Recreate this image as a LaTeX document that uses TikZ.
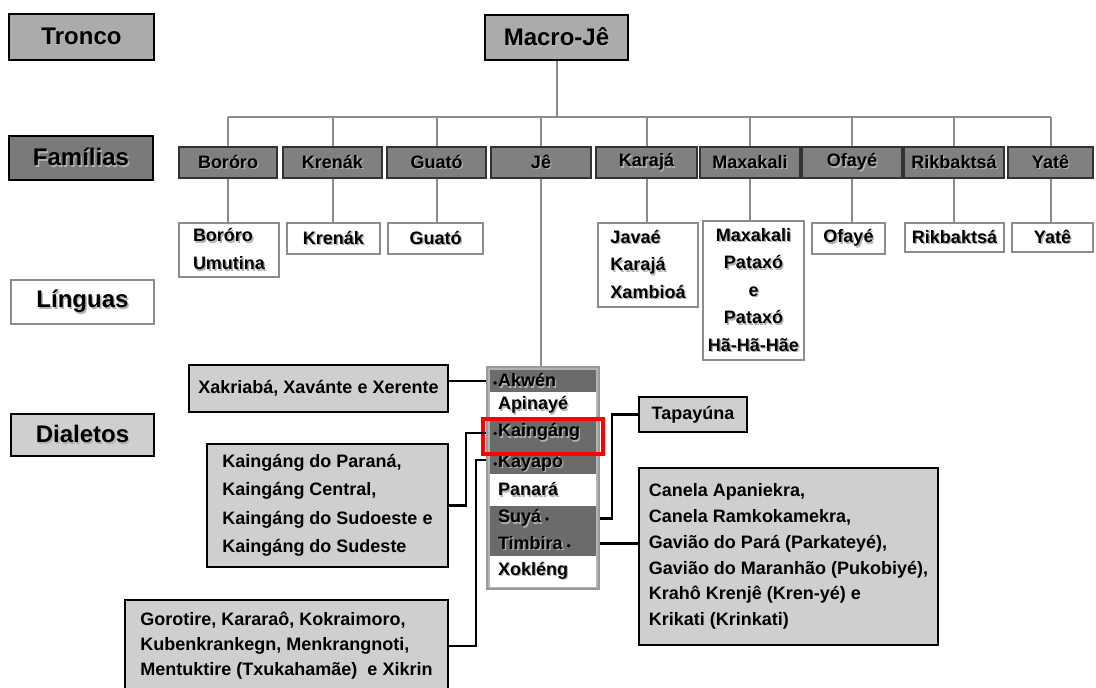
\documentclass[tikz,border=0pt]{standalone}
\usepackage{fontspec}
\setmainfont{Liberation Sans}
\usetikzlibrary{calc, positioning}

% text with a soft grey drop shadow
\newcommand{\shd}[1]{\leavevmode\rlap{\hspace{1.4pt}\raisebox{-1.6pt}{\textcolor{black!30}{#1}}}#1}
\newcommand{\bul}{\tikz[baseline=0pt]\fill (0pt,0pt) rectangle (0pt,0pt) (2pt,3.5pt) circle[radius=1.9pt];}

\begin{document}
\begin{tikzpicture}[x=1pt, y=-1pt,
	hdr/.style={draw=black, line width=2.5pt, fill=black!33, inner sep=0pt,
		font=\fontsize{24}{28}\selectfont\bfseries},
	fam/.style={draw=black!80, line width=1.2pt, fill=black!50, inner sep=0pt,
		minimum height=31, font=\fontsize{18}{22}\selectfont\bfseries},
	lang/.style={draw=black!45, line width=2pt, fill=white, inner sep=0pt, align=left,
		font=\fontsize{18}{27.5}\selectfont\bfseries},
	dial/.style={draw=black, line width=2.5pt, fill=black!19, inner sep=0pt, align=left,
		font=\fontsize{18}{25.8}\selectfont\bfseries},
	colbox/.style={draw=black!40, line width=1.8pt, fill=black!30, inner sep=0pt},
	roww/.style={fill=white, inner ysep=0pt, inner xsep=8pt, text width=90, align=left,
		font=\fontsize{18}{22}\selectfont\bfseries},
	rowd/.style={roww, fill=black!58},
	tree/.style={draw=black!45, line width=2pt},
	link/.style={draw=black, line width=2.2pt},
	redframe/.style={draw=red, line width=4pt}]
	\useasboundingbox (0,0) rectangle (1096,688);
	\clip (0,0) rectangle (1096,688);

	% level labels
	\node[hdr, minimum width=145, minimum height=46] (tronco) at (81.5,37) {\shd{Tronco}};
	\node[hdr, fill=black!52, minimum width=144, minimum height=44] (famil) at (81,158) {\shd{Famílias}};
	\node[hdr, draw=black!45, fill=white, minimum width=143, minimum height=44] (lingu) at (82.5,302) {\shd{Línguas}};
	\node[hdr, fill=black!19, minimum width=143, minimum height=42] (dialt) at (82.5,435) {\shd{Dialetos}};

	% tronco
	\node[hdr, minimum width=143, minimum height=45] (macro) at (556.5,37.5) {\shd{Macro-Jê}};

	% familias
	\node[fam, minimum width=98] (fbor) at (228,162.5) {\shd{Boróro}};
	\node[fam, minimum width=99] (fkre) at (332.5,162.5) {\shd{Krenák}};
	\node[fam, minimum width=99] (fgua) at (436.5,162.5) {\shd{Guató}};
	\node[fam, minimum width=100] (fje) at (541,162.5) {\shd{Jê}};
	\node[fam, minimum width=101] (fkar) at (646.5,162.5) {\shd{Karajá}};
	\node[fam, minimum width=100] (fmax) at (750,162.5) {\shd{Maxakali}};
	\node[fam, minimum width=100] (fofa) at (852,162.5) {\shd{Ofayé}};
	\node[fam, minimum width=100] (frik) at (954,162.5) {\shd{Rikbaktsá}};
	\node[fam, minimum width=85] (fyat) at (1050.5,162.5) {\shd{Yatê}};

	% linguas
	\node[lang, minimum width=100, minimum height=54] (lbor) at (229,250) {\shd{Boróro}\\\shd{Umutina}};
	\node[lang, minimum width=93, minimum height=31] (lkre) at (333.5,238.5) {\shd{Krenák}};
	\node[lang, minimum width=95, minimum height=31] (lgua) at (435.5,238.5) {\shd{Guató}};
	\node[lang, minimum width=100, minimum height=84] (lkar) at (648,265) {\shd{Javaé}\\\shd{Karajá}\\\shd{Xambioá}};
	\node[lang, align=center, minimum width=101, minimum height=139] (lmax) at (753.5,290.5)
		{\shd{Maxakali}\\\shd{Pataxó}\\\shd{e}\\\shd{Pataxó}\\\shd{Hã-Hã-Hãe}};
	\node[lang, minimum width=73, minimum height=31] (lofa) at (848.5,238.5) {\shd{Ofayé}};
	\node[lang, minimum width=99, minimum height=29] (lrik) at (954.5,237.5) {\shd{Rikbaktsá}};
	\node[lang, minimum width=81, minimum height=29] (lyat) at (1052.5,237.5) {\shd{Yatê}};

	% tree
	\coordinate (bus) at (0,117);
	\draw[tree] (macro.south) -- (macro.south |- bus);
	\draw[tree] (fbor.north |- bus) -- (fyat.north |- bus);
	\foreach \f in {fbor,fkre,fgua,fje,fkar,fmax,fofa,frik,fyat}
		\draw[tree] (\f.north) -- (\f.north |- bus);
	\foreach \f/\l in {fbor/lbor,fkre/lkre,fgua/lgua,fkar/lkar,fmax/lmax,fofa/lofa,frik/lrik,fyat/lyat}
		\draw[tree] (\f.south) -- (\f.south |- \l.north);

	% Je column
	\node[colbox, minimum width=112, minimum height=222] (col) at (543,478) {};
	\draw[tree] (fje.south) -- (fje.south |- col.north);
	\node[rowd, minimum height=22.5] (rakw) at (543,380.75) {\llap{\bul\hspace{1pt}}\shd{Akwén}};
	\node[roww, minimum height=28] (rapi) at (543,406) {\shd{Apinayé}};
	\node[rowd, minimum height=26] (rkai) at (543,433) {\llap{\bul\hspace{1pt}}\shd{Kaingáng}};
	\node[rowd, minimum height=28] (rkay) at (543,460) {\rule{0pt}{20pt}\llap{\bul\hspace{1pt}}\shd{Kayapó}};
	\node[roww, minimum height=32] (rpan) at (543,490) {\shd{Panará}};
	\node[rowd, minimum height=25] (rsuy) at (543,518.5) {\shd{Suyá}\hspace{4pt}\bul};
	\node[rowd, minimum height=25] (rtim) at (543,543.5) {\shd{Timbira}\hspace{4pt}\bul};
	\node[roww, minimum height=30.5] (rxok) at (543,571.25) {\shd{Xokléng}};
	\draw[redframe] ([shift={(-7,-1)}]rkai.north west) rectangle ([shift={(7,8)}]rkai.south east);

	% dialetos
	\node[dial, minimum width=259, minimum height=47] (xak) at (318.5,388.5) {Xakriabá, Xavánte e Xerente};
	\node[dial, font=\fontsize{18}{28.5}\selectfont\bfseries, minimum width=241, minimum height=123] (kaid) at (327.5,505.5)
		{Kaingáng do Paraná,\\Kaingáng Central,\\Kaingáng do Sudoeste e\\Kaingáng do Sudeste};
	\node[dial, font=\fontsize{18}{25}\selectfont\bfseries, minimum width=323, minimum height=92] (goro) at (286.5,646)
		{Gorotire, Kararaô, Kokraimoro,\\Kubenkrankegn, Menkrangnoti,\\Mentuktire (Txukahamãe)~ e Xikrin};
	\node[dial, minimum width=108, minimum height=35] (tapa) at (693,414.5) {Tapayúna};
	\node[dial, minimum width=299, minimum height=177] (cane) at (788.5,556.5)
		{Canela Apaniekra,\\Canela Ramkokamekra,\\Gavião do Pará (Parkateyé),\\Gavião do Maranhão (Pukobiyé),\\Krahô Krenjê (Kren-yé) e\\Krikati (Krinkati)};

	% links
	\draw[link] (rakw.west -| col.west) -- (rakw.west -| xak.east);
	\draw[link] (kaid.east) -- ++(17,0) |- (rkai.west -| col.west);
	\draw[link] (rkay.west -| col.west) -- ++(-10,0) |- (goro.east);
	\draw[link] (rsuy.east -| col.east) -- ++(12,0) |- (tapa.west);
	\draw[link] (rtim.east -| col.east) -- (rtim.east -| cane.west);
\end{tikzpicture}
\end{document}
